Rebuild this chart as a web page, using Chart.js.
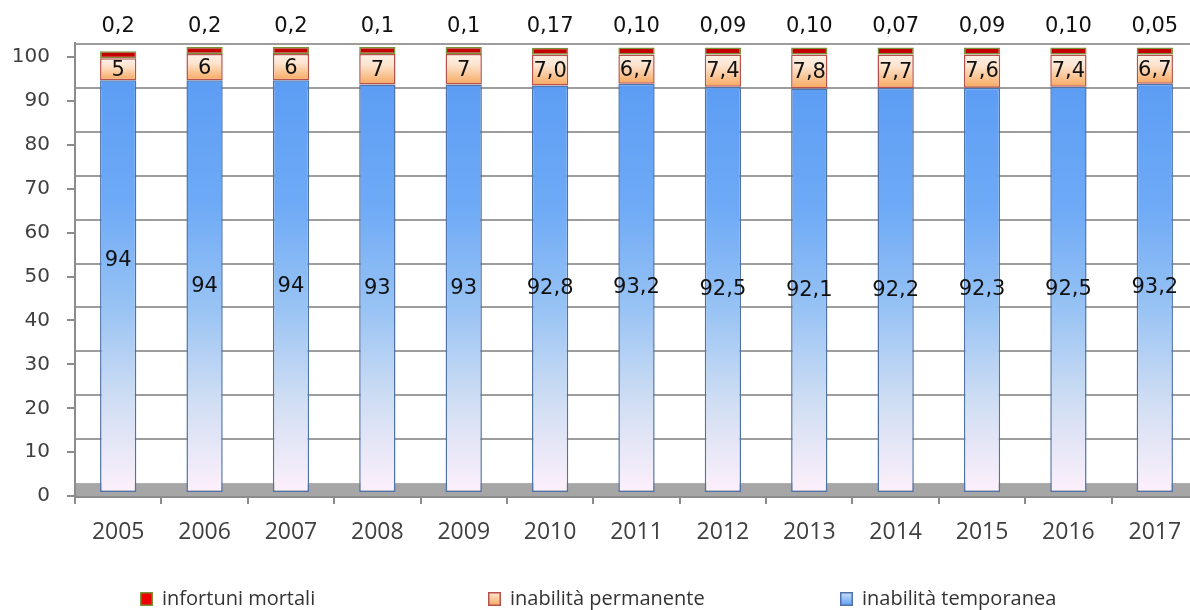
<!DOCTYPE html>
<html>
<head>
<meta charset="utf-8">
<script src="https://cdn.jsdelivr.net/npm/chart.js@4.4.0/dist/chart.umd.min.js"></script>
<style>
  html, body { margin: 0; padding: 0; background: #fff; overflow: hidden; }
</style>
</head>
<body>
<canvas id="chart" width="1198" height="610"></canvas>
<script>
const years = ['2005', '2006', '2007', '2008', '2009', '2010', '2011', '2012', '2013', '2014', '2015', '2016', '2017'];
const temporanea = [94, 94, 94, 93, 93, 92.8, 93.2, 92.5, 92.1, 92.2, 92.3, 92.5, 93.2];
const permanente = [5, 6, 6, 7, 7, 7.0, 6.7, 7.4, 7.8, 7.7, 7.6, 7.4, 6.7];
const mortali = [0.2, 0.2, 0.2, 0.1, 0.1, 0.17, 0.10, 0.09, 0.10, 0.07, 0.09, 0.10, 0.05];
// decimals shown on the labels (infortuni mortali gets one more)
const decimals = [0, 0, 0, 0, 0, 1, 1, 1, 1, 1, 1, 1, 1];
const yTicks = [0, 10, 20, 30, 40, 50, 60, 70, 80, 90, 100];

const labelFont = '21px "DejaVu Sans"';
const wallDepth = 13; // excel 3d: back wall gridlines sit above the tick marks

function fmt(v, d) {
    return v.toFixed(d).replace('.', ',');
}

function vGradient(c, top, bottom, stops) {
    const g = c.createLinearGradient(0, top, 0, bottom);
    stops.forEach(s => g.addColorStop(s[0], s[1]));
    return g;
}

const blueStops = [[0, '#5c9df4'], [0.3, '#6eaaf6'], [0.55, '#98c3f4'], [0.78, '#d0def3'], [1, '#fdf0fb']];
const orangeStops = [[0, '#fdf1e8'], [0.35, '#fde4cf'], [1, '#f7a85e']];

function blueFill(context) {
    const chart = context.chart;
    if (!chart.chartArea || context.dataIndex === undefined) return '#6aa8f5';
    const yb = chart.scales.yb;
    const i = context.dataIndex;
    return vGradient(chart.ctx, yb.getPixelForValue(temporanea[i]), yb.getPixelForValue(0), blueStops);
}

function orangeFill(context) {
    const chart = context.chart;
    if (!chart.chartArea || context.dataIndex === undefined) return '#fbc697';
    const yb = chart.scales.yb;
    const i = context.dataIndex;
    return vGradient(chart.ctx, yb.getPixelForValue(temporanea[i] + permanente[i]), yb.getPixelForValue(temporanea[i]), orangeStops);
}

const wallPlugin = {
    id: 'wall',
    beforeDraw(chart) {
        const c = chart.ctx;
        const a = chart.chartArea;
        const y = chart.scales.y;
        const floorTop = y.getPixelForValue(0) - wallDepth;
        c.save();
        c.fillStyle = '#a6a6a6';
        c.fillRect(a.left, floorTop, a.right - a.left, a.bottom - floorTop);
        c.strokeStyle = '#9d9d9d';
        c.lineWidth = 2;
        yTicks.forEach(v => {
            if (v === 0) return;
            const py = Math.round(y.getPixelForValue(v) - wallDepth);
            c.beginPath();
            c.moveTo(a.left, py);
            c.lineTo(a.right, py);
            c.stroke();
        });
        c.restore();
    }
};

const labelPlugin = {
    id: 'barLabels',
    afterDatasetsDraw(chart) {
        const c = chart.ctx;
        c.save();
        c.font = labelFont;
        c.fillStyle = '#111';
        c.textAlign = 'center';
        c.textBaseline = 'middle';
        chart.getDatasetMeta(0).data.forEach((bar, i) => {
            const lift = i === 0 ? 26 : 0; // first label was left higher in the original
            c.fillText(fmt(temporanea[i], decimals[i]), bar.x, (bar.y + bar.base) / 2 - lift);
        });
        chart.getDatasetMeta(1).data.forEach((bar, i) => {
            c.fillText(fmt(permanente[i], decimals[i]), bar.x, (bar.y + bar.base) / 2 + 1);
        });
        chart.getDatasetMeta(2).data.forEach((bar, i) => {
            c.fillText(fmt(mortali[i], decimals[i] + 1), bar.x, chart.chartArea.top - 16);
        });
        c.restore();
    }
};

const legendPlugin = {
    id: 'bottomLegend',
    afterDraw(chart) {
        const c = chart.ctx;
        const order = [2, 1, 0];
        const startX = [140, 488, 840];
        const cy = 599;
        c.save();
        c.font = '20px "Open Sans"';
        c.textAlign = 'left';
        c.textBaseline = 'middle';
        order.forEach((di, k) => {
            const ds = chart.data.datasets[di];
            const x = startX[k];
            let fill = ds.legendColor;
            if (Array.isArray(fill)) fill = vGradient(c, cy - 7, cy + 7, fill);
            c.fillStyle = fill;
            c.fillRect(x, cy - 7, 13, 14);
            c.strokeStyle = ds.borderColor;
            c.lineWidth = 1.5;
            c.strokeRect(x + 0.75, cy - 6.25, 11.5, 12.5);
            c.fillStyle = '#333';
            c.fillText(ds.label, x + 22, cy);
        });
        c.restore();
    }
};

const ctx = document.getElementById('chart');

new Chart(ctx, {
    type: 'bar',
    data: {
        labels: years,
        datasets: [{
            label: 'inabilità temporanea',
            data: temporanea,
            yAxisID: 'yb',
            backgroundColor: blueFill,
            borderColor: '#4f72a8',
            borderWidth: 1.5,
            borderSkipped: false,
            legendColor: [[0, '#cfe2fb'], [1, '#5c9df4']]
        }, {
            label: 'inabilità permanente',
            data: permanente,
            yAxisID: 'yb',
            backgroundColor: orangeFill,
            borderColor: '#b8504c',
            borderWidth: 1.5,
            borderSkipped: false,
            legendColor: [[0, '#fde9d9'], [1, '#f7a85e']]
        }, {
            label: 'infortuni mortali',
            data: mortali,
            yAxisID: 'yb',
            backgroundColor: '#c40000',
            borderColor: '#77933c',
            borderWidth: 1.5,
            borderSkipped: false,
            minBarLength: 7,
            legendColor: '#ee0000'
        }]
    },
    options: {
        responsive: false,
        animation: false,
        layout: {
            padding: { top: 43, right: 0, bottom: 48, left: 0 }
        },
        datasets: {
            bar: {
                barPercentage: 0.42,
                categoryPercentage: 1
            }
        },
        plugins: {
            legend: { display: false },
            tooltip: { enabled: false }
        },
        scales: {
            x: {
                stacked: true,
                grid: {
                    drawOnChartArea: false,
                    drawTicks: true,
                    tickLength: 7,
                    color: '#8c8c8c',
                    lineWidth: 2
                },
                border: { display: true, color: '#8c8c8c', width: 2 },
                ticks: {
                    font: { family: '"Open Sans"', size: 23 },
                    color: '#404040',
                    padding: 15,
                    maxRotation: 0
                },
                afterFit(scale) { scale.height = 65; }
            },
            y: {
                position: 'left',
                min: -0.2,
                max: 103.2,
                bounds: 'data',
                grid: {
                    drawOnChartArea: false,
                    drawTicks: true,
                    tickLength: 8,
                    color: '#8c8c8c',
                    lineWidth: 2
                },
                border: { display: true, color: '#8c8c8c', width: 2 },
                ticks: {
                    font: { family: '"DejaVu Sans"', size: 20 },
                    color: '#404040',
                    padding: 17
                },
                afterBuildTicks(scale) {
                    scale.ticks = yTicks.map(v => ({ value: v }));
                },
                afterFit(scale) { scale.width = 75; }
            },
            yb: {
                display: false,
                stacked: true,
                min: -1.14,
                max: 102.5,
                bounds: 'data'
            }
        }
    },
    plugins: [wallPlugin, labelPlugin, legendPlugin]
});
</script>
</body>
</html>
